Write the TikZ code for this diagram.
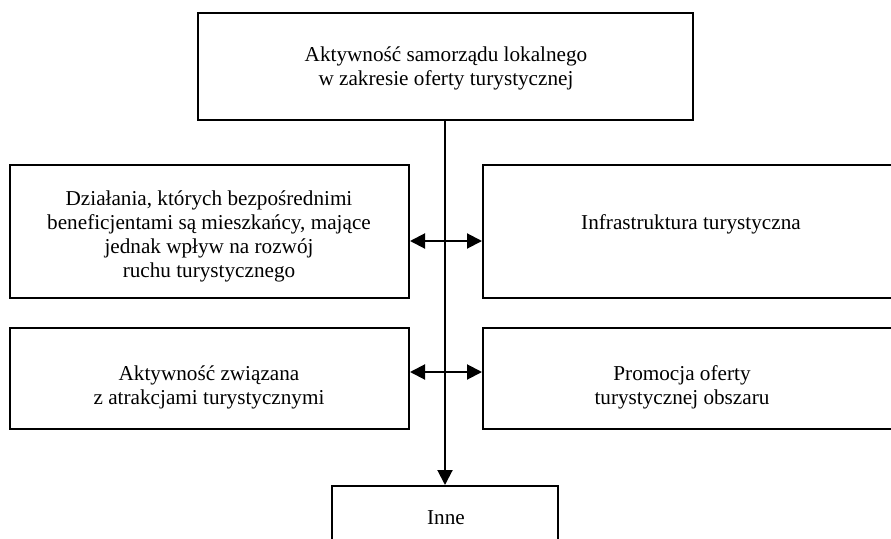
\documentclass[tikz,border=0pt]{standalone}
\usepackage{fontspec}
\setmainfont{Liberation Serif}
\usetikzlibrary{arrows.meta}
\begin{document}
\begin{tikzpicture}[x=1pt,y=-1pt,
  box/.style={draw=black,line width=2pt,fill=none,inner sep=0pt},
  txt/.style={align=center,font=\fontsize{21.2pt}{24pt}\selectfont,inner sep=0pt},
  conn/.style={line width=2pt,-{Triangle[length=15pt,width=15pt]}},
  dconn/.style={line width=2pt,{Triangle[length=15pt,width=15pt]}-{Triangle[length=15pt,width=15pt]}}]
\useasboundingbox (0,0) rectangle (891,538);
\clip (0,0) rectangle (891,538);
% boxes
\node[box,minimum width=495pt,minimum height=107pt] (top) at (445.5,66.5) {};
\node[txt] at (446,68.5) {Aktywność samorządu lokalnego\\w zakresie oferty turystycznej};
\node[box,minimum width=399pt,minimum height=133pt] (l1) at (209.5,231.5) {};
\node[txt] at (209,236) {Działania, których bezpośrednimi\\beneficjentami są mieszkańcy, mające\\jednak wpływ na rozwój\\ruchu turystycznego};
\node[box,minimum width=420pt,minimum height=133pt] (r1) at (693,231.5) {};
\node[txt] at (691,224) {Infrastruktura turystyczna};
\node[box,minimum width=399pt,minimum height=101pt] (l2) at (209.5,378.5) {};
\node[txt] at (209,387) {Aktywność związana\\z atrakcjami turystycznymi};
\node[box,minimum width=420pt,minimum height=101pt] (r2) at (693,378.5) {};
\node[txt] at (682,387) {Promocja oferty\\turystycznej obszaru};
\node[box,minimum width=226pt,minimum height=64pt] (inne) at (445,518) {};
\node[txt] at (446,518) {Inne};
% trunk coordinates
\coordinate (j1) at (445,241);
\coordinate (j2) at (445,372);
% connectors
\draw[conn] (top.south -| j1) -- (inne.north);
\draw[dconn] (l1.east |- j1) -- (r1.west |- j1);
\draw[dconn] (l2.east |- j2) -- (r2.west |- j2);
\end{tikzpicture}
\end{document}
